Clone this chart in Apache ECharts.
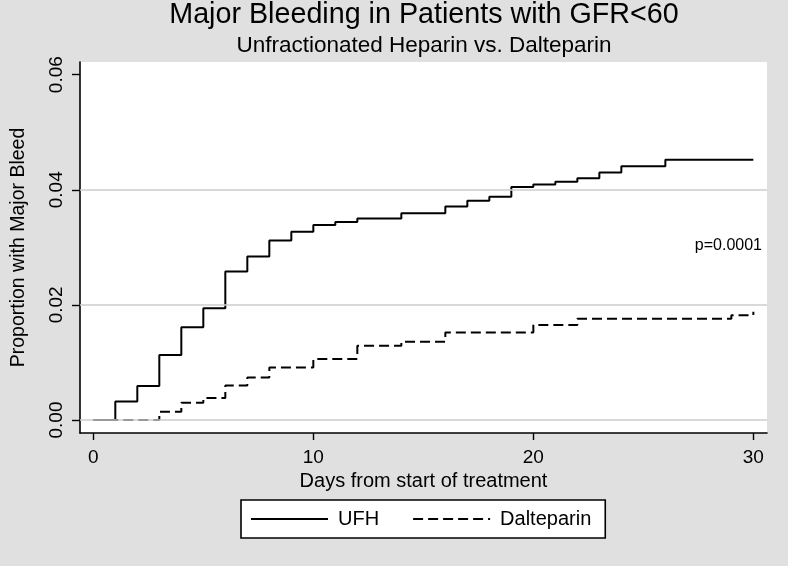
<!DOCTYPE html>
<html>
<head>
<meta charset="utf-8">
<script src="https://cdn.jsdelivr.net/npm/echarts@6/dist/echarts.min.js"></script>
<style>
html,body{margin:0;padding:0;background:#e0e0e0;}
#chart{width:788px;height:566px;}
</style>
</head>
<body>
<div id="chart"></div>
<script>
// ---- data ----
const ufhDays   = [0, 1, 2, 3, 4, 5, 6, 7, 8, 9, 10, 11, 12, 14, 16, 17, 18, 19, 20, 21, 22, 23, 24, 26, 30];
const ufhValues = [0, 0.0032, 0.0059, 0.0113, 0.0161, 0.0194, 0.0258, 0.0284, 0.0312, 0.0327, 0.0339, 0.0344, 0.0350, 0.0359, 0.0371, 0.0381, 0.0388, 0.0405, 0.0409, 0.0414, 0.0420, 0.0430, 0.0441, 0.0452, 0.0452];
const dalDays   = [0, 3, 4, 5, 6, 7, 8, 10, 12, 14, 16, 20, 22, 29, 30];
const dalValues = [0, 0.00145, 0.0030, 0.0038, 0.0060, 0.0074, 0.0091, 0.0106, 0.0129, 0.0136, 0.0152, 0.0165, 0.0176, 0.0182, 0.0188];
const xTicks = [0, 10, 20, 30];
const yTicks = [0, 0.02, 0.04, 0.06];
const yGrid  = [0, 0.02, 0.04];
const seriesNames = ['UFH', 'Dalteparin'];
const titleText = 'Major Bleeding in Patients with GFR<60';
const subtitleText = 'Unfractionated Heparin vs. Dalteparin';
const xName = 'Days from start of treatment';
const yName = 'Proportion with Major Bleed';
const pText = 'p=0.0001';

const FONT = '"Liberation Sans", Arial, Helvetica, sans-serif';
const chart = echarts.init(document.getElementById('chart'), null, {renderer: 'canvas'});

const pair = (xs, ys) => xs.map((x, i) => [x, ys[i]]);

const option = {
  backgroundColor: '#e0e0e0',
  animation: false,
  textStyle: {fontFamily: FONT, color: '#000'},
  grid: {
    left: 80, right: 21, top: 62, bottom: 133,
    containLabel: false, outerBoundsMode: 'none',
    show: true, backgroundColor: '#ffffff', borderWidth: 0
  },
  xAxis: {
    type: 'value', min: -0.605, max: 30.62,
    axisLine: {show: true, onZero: false, lineStyle: {color: '#000', width: 1.6}},
    axisTick: {show: true, length: 7, customValues: xTicks, lineStyle: {color: '#000', width: 1.4}},
    axisLabel: {customValues: xTicks, fontSize: 19, color: '#000', margin: 15, fontFamily: FONT},
    splitLine: {show: false},
    name: xName, nameLocation: 'middle', nameGap: 33,
    nameTextStyle: {fontSize: 20, color: '#000', fontFamily: FONT}
  },
  yAxis: {
    type: 'value', min: -0.00226, max: 0.0622,
    axisLine: {show: true, onZero: false, lineStyle: {color: '#000', width: 1.6}},
    axisTick: {show: true, length: 8, customValues: yTicks, lineStyle: {color: '#000', width: 1.4}},
    axisLabel: {customValues: yTicks, fontSize: 19, color: '#000', margin: 14, rotate: 90,
      fontFamily: FONT, formatter: v => v.toFixed(2)},
    splitLine: {show: false},
    name: yName, nameLocation: 'middle', nameGap: 51, nameRotate: 90,
    nameTextStyle: {fontSize: 19.5, color: '#000', fontFamily: FONT}
  },
  legend: {
    data: seriesNames,
    left: 241, top: 500,
    orient: 'horizontal',
    itemWidth: 77, itemHeight: 16, itemGap: 33,
    padding: [9, 14, 9, 9],
    backgroundColor: '#ffffff', borderColor: '#000', borderWidth: 1.6, borderRadius: 0,
    itemStyle: {opacity: 0},
    textStyle: {fontSize: 20, color: '#000', fontFamily: FONT, padding: [0, 0, 0, 5]},
    selectedMode: false
  },
  graphic: [
    {type: 'text', x: 424, y: 15, silent: true,
     style: {text: titleText, fill: '#000', font: '28.7px ' + FONT,
       textAlign: 'center', textVerticalAlign: 'middle', align: 'center', verticalAlign: 'middle'}},
    {type: 'text', x: 424, y: 46, silent: true,
     style: {text: subtitleText, fill: '#000', font: '22.5px ' + FONT,
       textAlign: 'center', textVerticalAlign: 'middle', align: 'center', verticalAlign: 'middle'}},
    {type: 'text', x: 762, y: 246, silent: true,
     style: {text: pText, fill: '#000', font: '16px ' + FONT,
       textAlign: 'right', textVerticalAlign: 'middle', align: 'right', verticalAlign: 'middle'}}
  ],
  series: [
    {
      name: 'grid', type: 'line', data: [], z: 1, silent: true,
      markLine: {
        silent: true, symbol: ['none', 'none'], animation: false,
        label: {show: false},
        lineStyle: {color: '#cccccc', width: 1.6, type: 'solid'},
        data: yGrid.map(v => ({yAxis: v}))
      }
    },
    {
      name: seriesNames[0], type: 'line', step: 'end', symbol: 'none', z: 3,
      data: pair(ufhDays, ufhValues),
      lineStyle: {color: '#000', width: 2, type: 'solid'},
      itemStyle: {color: '#000'}
    },
    {
      name: seriesNames[1], type: 'line', step: 'end', symbol: 'none', z: 3,
      data: pair(dalDays, dalValues),
      lineStyle: {color: '#000', width: 2, type: [10, 5]},
      itemStyle: {color: '#000'}
    }
  ]
};
chart.setOption(option);
</script>
</body>
</html>
